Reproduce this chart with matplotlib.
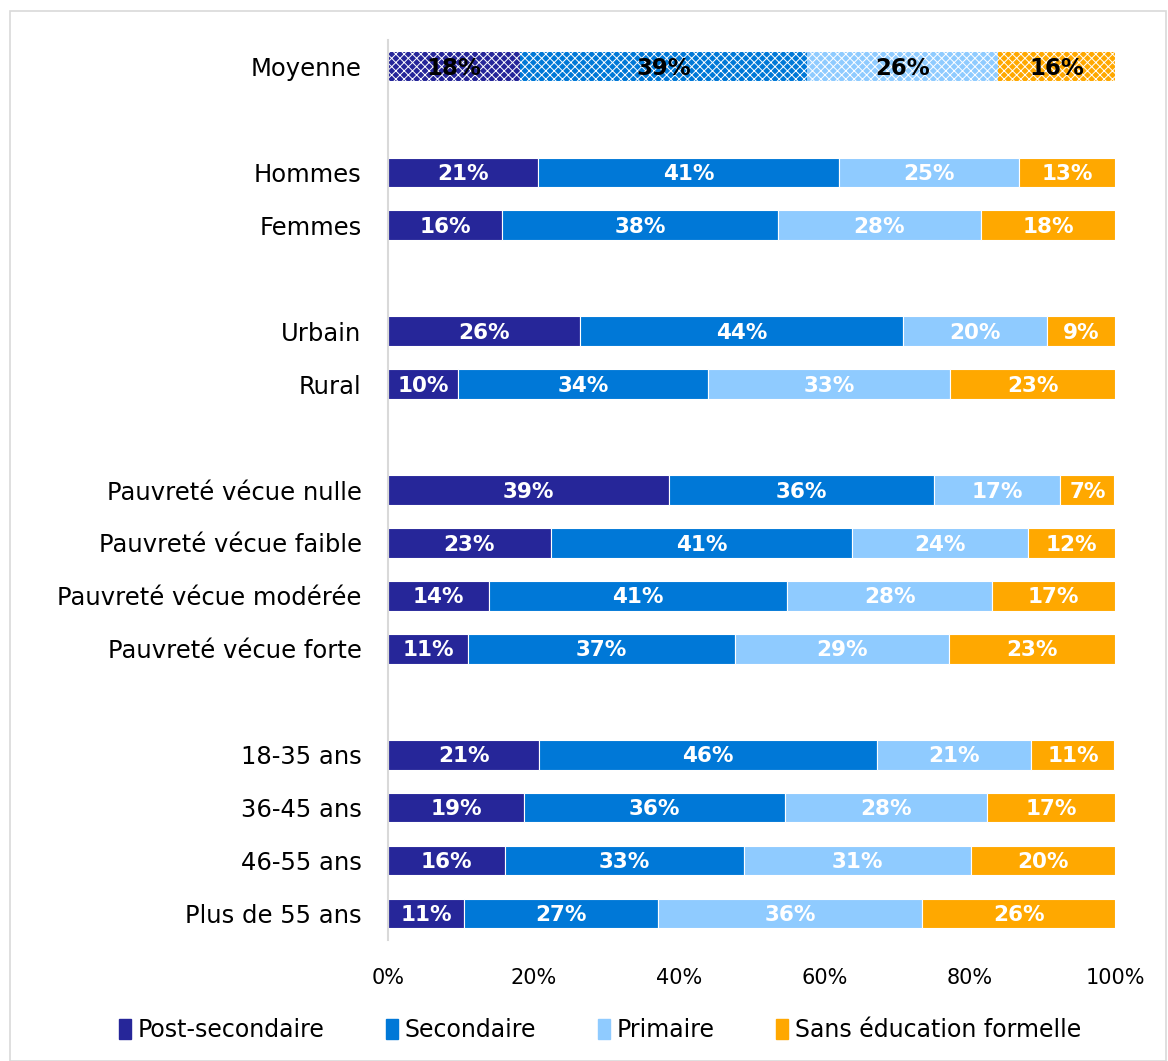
import numpy as np
import matplotlib
matplotlib.use("Agg")
import matplotlib.pyplot as plt

categories = ["Moyenne", "Hommes", "Femmes", "Urbain", "Rural",
              "Pauvreté vécue nulle", "Pauvreté vécue faible",
              "Pauvreté vécue modérée", "Pauvreté vécue forte",
              "18-35 ans", "36-45 ans", "46-55 ans", "Plus de 55 ans"]
rows = [0, 2, 3, 5, 6, 8, 9, 10, 11, 13, 14, 15, 16]

series = ["Post-secondaire", "Secondaire", "Primaire", "Sans éducation formelle"]
post_sec = [18.2, 20.6, 15.7, 26.4, 9.6, 38.7, 22.4, 13.9, 11.0, 20.8, 18.7, 16.1, 10.5]
secondaire = [39.4, 41.4, 37.9, 44.4, 34.4, 36.4, 41.4, 41.0, 36.7, 46.4, 35.9, 32.9, 26.6]
primaire = [26.3, 24.8, 28.0, 19.8, 33.3, 17.4, 24.2, 28.2, 29.4, 21.3, 27.8, 31.2, 36.4]
sans_educ = [16.1, 13.2, 18.4, 9.4, 22.7, 7.4, 12.0, 16.9, 22.9, 11.4, 17.6, 19.8, 26.5]
labels = [
    [18, 21, 16, 26, 10, 39, 23, 14, 11, 21, 19, 16, 11],
    [39, 41, 38, 44, 34, 36, 41, 41, 37, 46, 36, 33, 27],
    [26, 25, 28, 20, 33, 17, 24, 28, 29, 21, 28, 31, 36],
    [16, 13, 18, 9, 23, 7, 12, 17, 23, 11, 17, 20, 26],
]
colors = ["#262699", "#0078D7", "#8FCBFF", "#FFA800"]

plt.rcParams['font.family'] = ['DejaVu Sans']
plt.rcParams['hatch.linewidth'] = 0.7

fig = plt.figure(figsize=(11.68, 10.61), dpi=100)
ax = fig.add_axes([388/1168, 1 - 940/1061, 727/1168, 900/1061])

data = [post_sec, secondaire, primaire, sans_educ]
left = np.zeros(len(categories))
for k, vals in enumerate(data):
    vals = np.array(vals) / 100
    for i, y in enumerate(rows):
        if i == 0:
            # average bar is drawn with a checker pattern
            ax.barh(y, vals[i], left=left[i], height=0.56, color=colors[k],
                    edgecolor="white", hatch="xxxx", linewidth=0)
            tc = "black"
            fs = 16.5
        else:
            ax.barh(y, vals[i], left=left[i], height=0.56, color=colors[k],
                    edgecolor="white", linewidth=0.8)
            tc = "white"
            fs = 15.5
        ax.text(left[i] + vals[i] / 2, y + 0.03, "{}%".format(labels[k][i]),
                ha="center", va="center", color=tc, fontsize=fs, fontweight="bold")
    left += vals

ax.set_xlim(0, 1)
ax.set_ylim(16.5, -0.5)
ax.set_yticks(rows)
ax.set_yticklabels(categories, fontsize=17.5)
ax.set_xticks(np.arange(0, 1.01, 0.2))
ax.set_xticklabels(["0%", "20%", "40%", "60%", "80%", "100%"], fontsize=15)
ax.tick_params(axis="y", length=0, pad=19)
ax.tick_params(axis="x", length=0, pad=20)
for s in ["top", "right", "bottom"]:
    ax.spines[s].set_visible(False)
ax.spines["left"].set_color("#D9D9D9")
ax.spines["left"].set_linewidth(1.5)

handles = [plt.Rectangle((0, 0), 1, 1, color=c) for c in colors]
fig.legend(handles, series, loc="center", bbox_to_anchor=(600/1168, 1 - 1030/1061),
           ncol=4, frameon=False, fontsize=17, handlelength=0.5, handleheight=0.9,
           handletextpad=0.3, columnspacing=2.6)

fig.patches.append(plt.Rectangle((10/1168, 0), 1 - 10/1168 - 2/1168, 1 - 11/1061,
                                 transform=fig.transFigure, fill=False,
                                 edgecolor="#D9D9D9", linewidth=1.2))

fig.savefig("out.png", dpi=100)
